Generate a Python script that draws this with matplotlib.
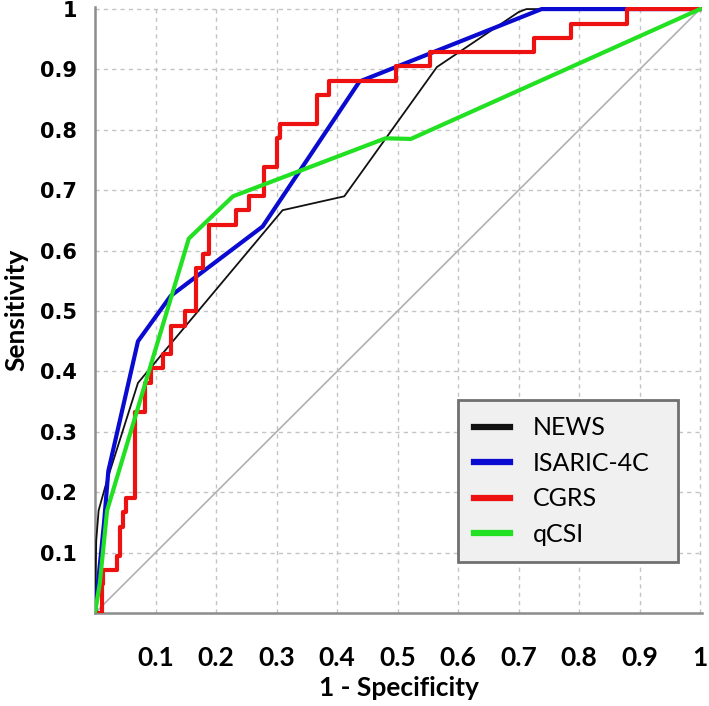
import matplotlib
matplotlib.use('Agg')
import matplotlib.pyplot as plt

# ROC curve vertices (1 - specificity, sensitivity)
news_x = [0, 0.002, 0.006, 0.02, 0.071, 0.31, 0.412, 0.565, 0.70, 0.713, 1]
news_y = [0, 0.12, 0.17, 0.22, 0.381, 0.667, 0.69, 0.904, 0.995, 1.0, 1]

isaric_x = [0, 0.005, 0.015, 0.022, 0.071, 0.125, 0.277, 0.437, 0.738, 1]
isaric_y = [0, 0.05, 0.15, 0.235, 0.45, 0.525, 0.64, 0.88, 1.0, 1]

# CGRS is a staircase: each point is the corner after a horizontal run
cgrs_x = [0, 0.011, 0.014, 0.036, 0.042, 0.047, 0.052, 0.066, 0.082, 0.093,
          0.112, 0.126, 0.148, 0.167, 0.178, 0.189, 0.233, 0.255, 0.28, 0.30,
          0.305, 0.367, 0.387, 0.497, 0.553, 0.726, 0.786, 0.879, 1]
cgrs_y = [0, 0.048, 0.071, 0.095, 0.143, 0.167, 0.19, 0.333, 0.381, 0.405,
          0.429, 0.476, 0.5, 0.571, 0.595, 0.643, 0.667, 0.69, 0.738, 0.786,
          0.81, 0.857, 0.881, 0.905, 0.929, 0.952, 0.976, 1.0, 1]

qcsi_x = [0, 0.008, 0.02, 0.155, 0.228, 0.48, 0.522, 1]
qcsi_y = [0, 0.05, 0.17, 0.62, 0.69, 0.786, 0.785, 1]

ticks = [0.1, 0.2, 0.3, 0.4, 0.5, 0.6, 0.7, 0.8, 0.9, 1]
tick_labels = ['0.1', '0.2', '0.3', '0.4', '0.5', '0.6', '0.7', '0.8', '0.9', '1']

fig = plt.figure(figsize=(7.09, 7.06), dpi=100)
ax = fig.add_axes([0.134, 0.1317, 0.856, 0.858])

# reference diagonal
ax.plot([0, 1], [0, 1], color='#b0b0b0', lw=1.2, zorder=2)

ax.plot(news_x, news_y, color='#111111', lw=1.3, label='NEWS', zorder=3)
ax.plot(isaric_x, isaric_y, color='#0a0ad0', lw=3.0, label='ISARIC-4C', zorder=4)
ax.plot(cgrs_x, cgrs_y, color='#ee1111', lw=3.0, drawstyle='steps-post', label='CGRS', zorder=5)
ax.plot(qcsi_x, qcsi_y, color='#22e022', lw=3.0, label='qCSI', zorder=6)

ax.set_xlim(0, 1.003)
ax.set_ylim(0, 1.003)
ax.set_xticks(ticks)
ax.set_xticklabels(tick_labels, fontfamily='Lato', fontweight='bold', fontsize=19)
ax.set_yticks(ticks)
ax.set_yticklabels(tick_labels, fontfamily='DejaVu Sans', fontweight='bold', fontsize=15)
ax.tick_params(axis='both', length=0)
ax.tick_params(axis='x', pad=24)
ax.tick_params(axis='y', pad=13)

ax.grid(True, color='#c4c4c4', linestyle=(0, (3, 3)), lw=1.0)
for s in ['top', 'right']:
    ax.spines[s].set_visible(False)
for s in ['left', 'bottom']:
    ax.spines[s].set_color('#8c8c8c')
    ax.spines[s].set_linewidth(1.8)

ax.set_xlabel('1 - Specificity', fontfamily='Lato', fontweight='bold', fontsize=19, labelpad=4)
ax.set_ylabel('Sensitivity', fontfamily='Lato', fontweight='bold', fontsize=19, labelpad=8)

leg = ax.legend(loc='lower left', bbox_to_anchor=(0.598, 0.084, 0.362, 0.272), mode='expand',
                prop={'family': 'Lato', 'size': 18}, frameon=True, fancybox=False,
                handlelength=1.45, handletextpad=0.9, labelspacing=0.5, borderpad=0.65,
                borderaxespad=0)
leg.get_frame().set_facecolor('#f0f0f0')
leg.get_frame().set_edgecolor('#707070')
leg.get_frame().set_linewidth(2.0)
leg.get_frame().set_alpha(1)
for line in leg.get_lines():
    line.set_linewidth(4.5)

plt.savefig('out.png', dpi=100)
